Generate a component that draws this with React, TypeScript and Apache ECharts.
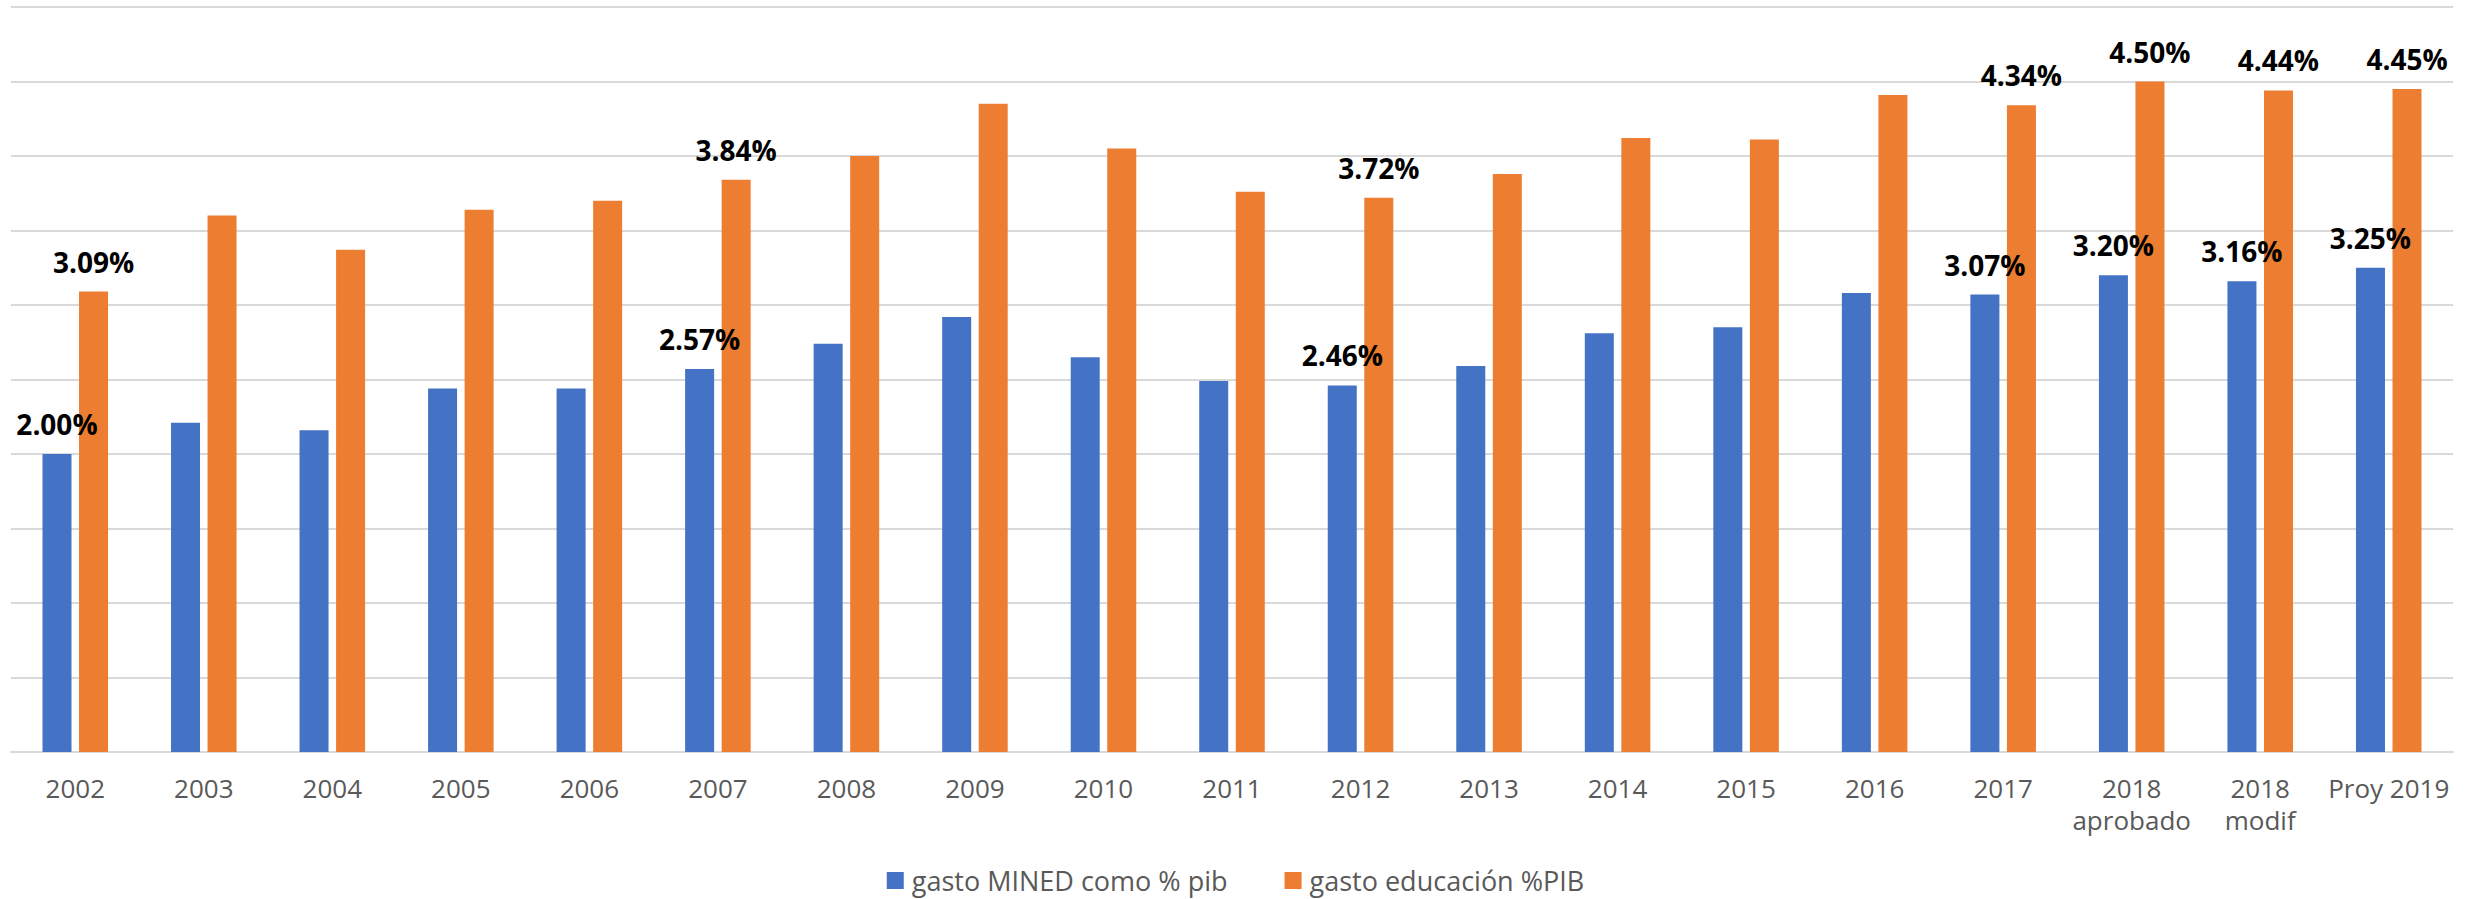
import React, { useEffect, useRef } from "react";
import * as echarts from "echarts";

const categories = [
  "2002", "2003", "2004", "2005", "2006", "2007", "2008", "2009", "2010", "2011",
  "2012", "2013", "2014", "2015", "2016", "2017", "2018\naprobado", "2018\nmodif", "Proy 2019",
];
const minedValues = [2.0, 2.21, 2.16, 2.44, 2.44, 2.57, 2.74, 2.92, 2.65, 2.49, 2.46, 2.59, 2.81, 2.85, 3.08, 3.07, 3.2, 3.16, 3.25];
const educacionValues = [3.09, 3.6, 3.37, 3.64, 3.7, 3.84, 4.0, 4.35, 4.05, 3.76, 3.72, 3.88, 4.12, 4.11, 4.41, 4.34, 4.5, 4.44, 4.45];
const labeledIndices = [0, 5, 10, 15, 16, 17, 18];
const seriesNames = ["gasto MINED como % pib", "gasto educación %PIB"];

const FONT = "'Open Sans', 'Noto Sans', sans-serif";

export default function App() {
  const ref = useRef<HTMLDivElement>(null);
  useEffect(() => {
    if (!ref.current) return;
    const chart = echarts.init(ref.current, undefined, { renderer: "svg" });
    const mk = (vals: number[]) =>
      vals.map((v, i) => ({ value: v, label: { show: labeledIndices.includes(i) } }));
    const labelStyle = {
      show: false,
      position: "top" as const,
      distance: 16,
      color: "#000000",
      fontFamily: FONT,
      fontWeight: "bold" as const,
      fontSize: 28,
      formatter: (p: any) => Number(p.value).toFixed(2) + "%",
    };
    chart.setOption({
      animation: false,
      textStyle: { fontFamily: FONT },
      grid: { left: 11, right: 18, top: 7, bottom: 147, containLabel: false },
      legend: {
        top: 862,
        left: "center",
        itemWidth: 17,
        itemHeight: 17,
        itemGap: 57,
        icon: "rect",
        textStyle: { color: "#595959", fontSize: 27, fontFamily: FONT, padding: [0, 0, 0, 3] },
        data: seriesNames,
      },
      xAxis: {
        type: "category",
        data: categories,
        axisLine: { show: true, lineStyle: { color: "#d9d9d9", width: 2 } },
        axisTick: { show: false },
        axisLabel: {
          color: "#595959",
          fontSize: 26,
          fontFamily: FONT,
          margin: 20,
          lineHeight: 32,
          interval: 0,
        },
      },
      yAxis: {
        type: "value",
        min: 0,
        max: 5,
        interval: 0.5,
        axisLabel: { show: false },
        axisLine: { show: false },
        axisTick: { show: false },
        splitLine: { show: true, lineStyle: { color: "#d9d9d9", width: 2 } },
      },
      series: [
        {
          name: seriesNames[0],
          type: "bar",
          data: mk(minedValues),
          barWidth: 29,
          barGap: "26%",
          itemStyle: { color: "#4472C4" },
          label: labelStyle,
        },
        {
          name: seriesNames[1],
          type: "bar",
          data: mk(educacionValues),
          barWidth: 29,
          barGap: "26%",
          itemStyle: { color: "#ED7D31" },
          label: labelStyle,
        },
      ],
    });
    return () => chart.dispose();
  }, []);
  return (
    <div
      ref={ref}
      style={{ position: "fixed", left: 0, top: 0, width: "2471px", height: "899px", background: "#ffffff" }}
    />
  );
}
